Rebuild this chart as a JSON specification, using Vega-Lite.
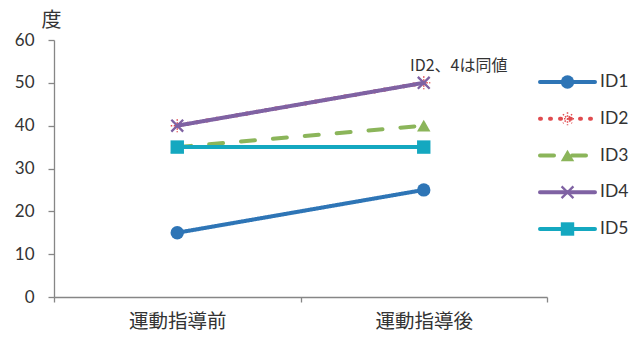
{
  "$schema": "https://vega.github.io/schema/vega-lite/v6.json",
  "width": 493,
  "height": 257,
  "autosize": {"type": "none"},
  "padding": {"left": 54, "top": 40, "right": 94, "bottom": 41},
  "background": "white",
  "config": {
    "view": {"stroke": null},
    "legend": {"disable": true},
    "axis": {
      "domainColor": "#868686",
      "domainWidth": 1.3,
      "tickColor": "#868686",
      "tickWidth": 1.3,
      "labelColor": "#333333",
      "grid": false
    }
  },
  "datasets": {
    "scores": [
      {"id": "ID1", "phase": "運動指導前", "value": 15},
      {"id": "ID1", "phase": "運動指導後", "value": 25},
      {"id": "ID2", "phase": "運動指導前", "value": 40},
      {"id": "ID2", "phase": "運動指導後", "value": 50},
      {"id": "ID3", "phase": "運動指導前", "value": 35},
      {"id": "ID3", "phase": "運動指導後", "value": 40},
      {"id": "ID4", "phase": "運動指導前", "value": 40},
      {"id": "ID4", "phase": "運動指導後", "value": 50},
      {"id": "ID5", "phase": "運動指導前", "value": 35},
      {"id": "ID5", "phase": "運動指導後", "value": 35}
    ],
    "series": [
      {"id": "ID1"}, {"id": "ID2"}, {"id": "ID3"}, {"id": "ID4"}, {"id": "ID5"}
    ],
    "notes": [
      {"phase": "運動指導後", "value": 50, "note": "ID2、4は同値"}
    ]
  },
  "layer": [
    {
      "encoding": {
        "x": {
          "field": "phase",
          "type": "nominal",
          "sort": ["運動指導前", "運動指導後"],
          "scale": {"type": "band", "paddingInner": 0, "paddingOuter": 0},
          "axis": {
            "title": null,
            "labelAngle": 0,
            "tickBand": "extent",
            "tickSize": 5,
            "labelPadding": 10,
            "labelBaseline": "top",
            "labelFont": "Noto Sans CJK JP",
            "labelFontSize": 19.5
          }
        },
        "y": {
          "field": "value",
          "type": "quantitative",
          "scale": {"domain": [0, 60], "nice": false},
          "axis": {
            "values": [0, 10, 20, 30, 40, 50, 60],
            "tickSize": 6,
            "labelPadding": 14,
            "labelFont": "Lato",
            "labelFontSize": 17,
            "title": "度",
            "titleAngle": 0,
            "titleAlign": "center",
            "titleBaseline": "middle",
            "titleX": -3,
            "titleY": -20,
            "titleFont": "Noto Sans CJK JP",
            "titleFontSize": 20,
            "titleFontWeight": "normal",
            "titleColor": "#333333"
          }
        }
      },
      "layer": [
        {
          "data": {"name": "scores"},
          "transform": [{"filter": {"field": "id", "equal": "ID2"}}],
          "mark": {"type": "point", "filled": false, "opacity": 1, "strokeWidth": 1.5, "strokeDash": [1.5, 1.5], "size": 170},
          "encoding": {
            "color": {"field": "id", "type": "nominal"},
            "shape": {"field": "id", "type": "nominal"}
          }
        },
        {
          "data": {"name": "scores"},
          "mark": {"type": "line", "strokeWidth": 4, "strokeCap": "round"},
          "encoding": {
            "color": {"field": "id", "type": "nominal", "scale": {"domain": ["ID1", "ID2", "ID3", "ID4", "ID5"], "range": ["#2E75B6", "#E04B4F", "#8BB55A", "#7F62A3", "#14A8C0"]}},
            "strokeDash": {"field": "id", "type": "nominal", "scale": {"domain": ["ID1", "ID2", "ID3", "ID4", "ID5"], "range": [[1, 0], [1, 9], [14, 18], [1, 0], [1, 0]]}}
          }
        },
        {
          "data": {"name": "scores"},
          "transform": [{"filter": {"field": "id", "oneOf": ["ID1", "ID3", "ID5"]}}],
          "mark": {"type": "point", "filled": true, "opacity": 1, "size": 180},
          "encoding": {
            "color": {"field": "id", "type": "nominal"},
            "shape": {"field": "id", "type": "nominal", "scale": {"domain": ["ID1", "ID2", "ID3", "ID4", "ID5"], "range": ["circle", "M-1,0L1,0M0,-1L0,1M-0.7,-0.7L0.7,0.7M0.7,-0.7L-0.7,0.7", "triangle-up", "M-1,-1L1,1M1,-1L-1,1", "square"]}}
          }
        },
        {
          "data": {"name": "scores"},
          "transform": [{"filter": {"field": "id", "equal": "ID4"}}],
          "mark": {"type": "point", "filled": false, "opacity": 1, "strokeWidth": 2.3, "size": 140},
          "encoding": {
            "color": {"field": "id", "type": "nominal"},
            "shape": {"field": "id", "type": "nominal"}
          }
        },
        {
          "data": {"name": "notes"},
          "mark": {"type": "text", "font": "Noto Sans CJK JP", "fontSize": 16, "color": "#333333", "baseline": "middle", "align": "center", "dx": 35, "dy": -17},
          "encoding": {
            "text": {"field": "note"}
          }
        }
      ]
    },
    {
      "data": {"name": "series"},
      "encoding": {
        "y": {
          "field": "id",
          "type": "ordinal",
          "scale": {"type": "point", "domain": ["ID1", "ID2", "ID3", "ID4", "ID5"], "range": [42, 189], "padding": 0},
          "axis": null
        }
      },
      "layer": [
        {
          "mark": {"type": "rule", "strokeWidth": 4, "strokeCap": "round"},
          "encoding": {
            "x": {"datum": 0, "type": "quantitative", "scale": {"domain": [0, 1], "range": [486, 541]}, "axis": null},
            "x2": {"datum": 1},
            "color": {"field": "id", "type": "nominal"},
            "strokeDash": {"field": "id", "type": "nominal"}
          }
        },
        {
          "transform": [{"filter": {"field": "id", "oneOf": ["ID1", "ID3", "ID5"]}}],
          "mark": {"type": "point", "filled": true, "opacity": 1, "size": 180},
          "encoding": {
            "x": {"datum": 0.5, "type": "quantitative"},
            "color": {"field": "id", "type": "nominal"},
            "shape": {"field": "id", "type": "nominal"}
          }
        },
        {
          "transform": [{"filter": {"field": "id", "equal": "ID2"}}],
          "mark": {"type": "point", "filled": false, "opacity": 1, "strokeWidth": 1.5, "strokeDash": [1.5, 1.5], "size": 170},
          "encoding": {
            "x": {"datum": 0.5, "type": "quantitative"},
            "color": {"field": "id", "type": "nominal"},
            "shape": {"field": "id", "type": "nominal"}
          }
        },
        {
          "transform": [{"filter": {"field": "id", "equal": "ID4"}}],
          "mark": {"type": "point", "filled": false, "opacity": 1, "strokeWidth": 2.3, "size": 140},
          "encoding": {
            "x": {"datum": 0.5, "type": "quantitative"},
            "color": {"field": "id", "type": "nominal"},
            "shape": {"field": "id", "type": "nominal"}
          }
        },
        {
          "mark": {"type": "text", "font": "Lato", "fontSize": 17.5, "color": "#333333", "align": "left", "baseline": "middle", "dx": 5},
          "encoding": {
            "x": {"datum": 1, "type": "quantitative"},
            "text": {"field": "id"}
          }
        }
      ]
    }
  ],
  "resolve": {"scale": {"x": "independent", "y": "independent"}}
}
